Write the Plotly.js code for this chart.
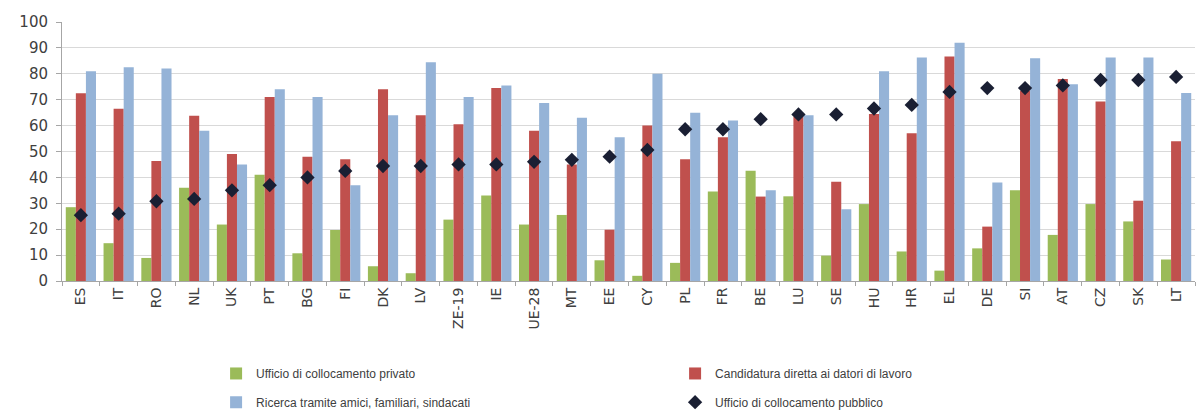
<!DOCTYPE html>
<html>
<head>
<meta charset="utf-8">
<script src="https://cdn.plot.ly/plotly-3.0.1.min.js"></script>
<style>html,body{margin:0;padding:0;background:#fff;}#chart{width:1197px;height:418px;}</style>
</head>
<body>
<div id="chart"></div>
<script>
const countries = ["ES","IT","RO","NL","UK","PT","BG","FI","DK","LV","ZE-19","IE","UE-28","MT","EE","CY","PL","FR","BE","LU","SE","HU","HR","EL","DE","SI","AT","CZ","SK","LT"];
const privato = [28.5,14.6,8.9,36,21.8,41,10.7,19.7,5.7,3,23.7,33,21.8,25.5,8,2,7,34.6,42.6,32.7,9.8,29.7,11.4,4,12.6,35,17.8,29.7,23,8.3];
const candidatura = [72.5,66.5,46.3,63.8,49,71,48,47,74,64,60.5,74.5,58,45,19.8,60,47,55.5,32.6,63.5,38.3,64.5,57,86.7,21,73.5,78,69.3,31,54];
const amici = [81,82.5,82,58,45,74,71,37,64,84.5,71,75.5,68.7,63,55.5,80,65,62,35,64,27.7,81,86.3,92,38,86,76,86.3,86.3,72.6];
const pubblico = [25.4,26,30.8,31.7,35,37,40,42.5,44.4,44.4,45,45,46,46.8,48,50.6,58.6,58.6,62.5,64.3,64.3,66.6,68,73,74.5,74.5,75.5,77.6,77.6,78.8];
const seriesNames = ["Ufficio di collocamento privato","Candidatura diretta ai datori di lavoro","Ricerca tramite amici, familiari, sindacati","Ufficio di collocamento pubblico"];

const data = [
  {type:'bar', x:countries, y:privato, name:seriesNames[0], marker:{color:'#9bbb59'}, legend:'legend'},
  {type:'bar', x:countries, y:candidatura, name:seriesNames[1], marker:{color:'#c0504d'}, legend:'legend'},
  {type:'bar', x:countries, y:amici, name:seriesNames[2], marker:{color:'#95b3d7'}, legend:'legend2'},
  {type:'scatter', mode:'markers', x:countries, y:pubblico, name:seriesNames[3], marker:{symbol:'diamond', size:11, color:'#1a1f33'}, legend:'legend2'}
];

const legendCommon = {
  orientation:'h', xanchor:'left', yanchor:'middle', x:0.136,
  entrywidth:414, entrywidthmode:'pixels',
  font:{family:'Liberation Sans, Arial, sans-serif', size:12, color:'#404040'},
  bgcolor:'rgba(0,0,0,0)', itemwidth:30
};

const layout = {
  width:1197, height:418,
  margin:{l:62, r:2, t:22, b:133},
  paper_bgcolor:'#fff', plot_bgcolor:'#fff',
  barmode:'group', bargap:0.2, bargroupgap:0,
  showlegend:true,
  legend:Object.assign({}, legendCommon, {y:-0.357}),
  legend2:Object.assign({}, legendCommon, {y:-0.468}),
  xaxis:{
    type:'category', range:[-0.5, countries.length-0.5], autorange:false,
    tickangle:-90, showgrid:false,
    showline:true, linecolor:'#a6a6a6', linewidth:1,
    ticks:'outside', ticklen:4, tickcolor:'#a6a6a6', tickson:'boundaries',
    tickfont:{family:'DejaVu Sans, sans-serif', size:14, color:'#404040'},
    fixedrange:true
  },
  yaxis:{
    range:[0,100], dtick:10, tick0:0,
    showgrid:true, gridcolor:'#d9d9d9', gridwidth:1,
    showline:true, linecolor:'#a6a6a6', linewidth:1,
    ticks:'outside', ticklen:5, tickcolor:'#a6a6a6',
    zeroline:false,
    tickfont:{family:'DejaVu Sans, sans-serif', size:15, color:'#404040'},
    ticklabelstandoff:5,
    fixedrange:true
  }
};

Plotly.newPlot('chart', data, layout, {displayModeBar:false, staticPlot:true});
</script>
</body>
</html>
